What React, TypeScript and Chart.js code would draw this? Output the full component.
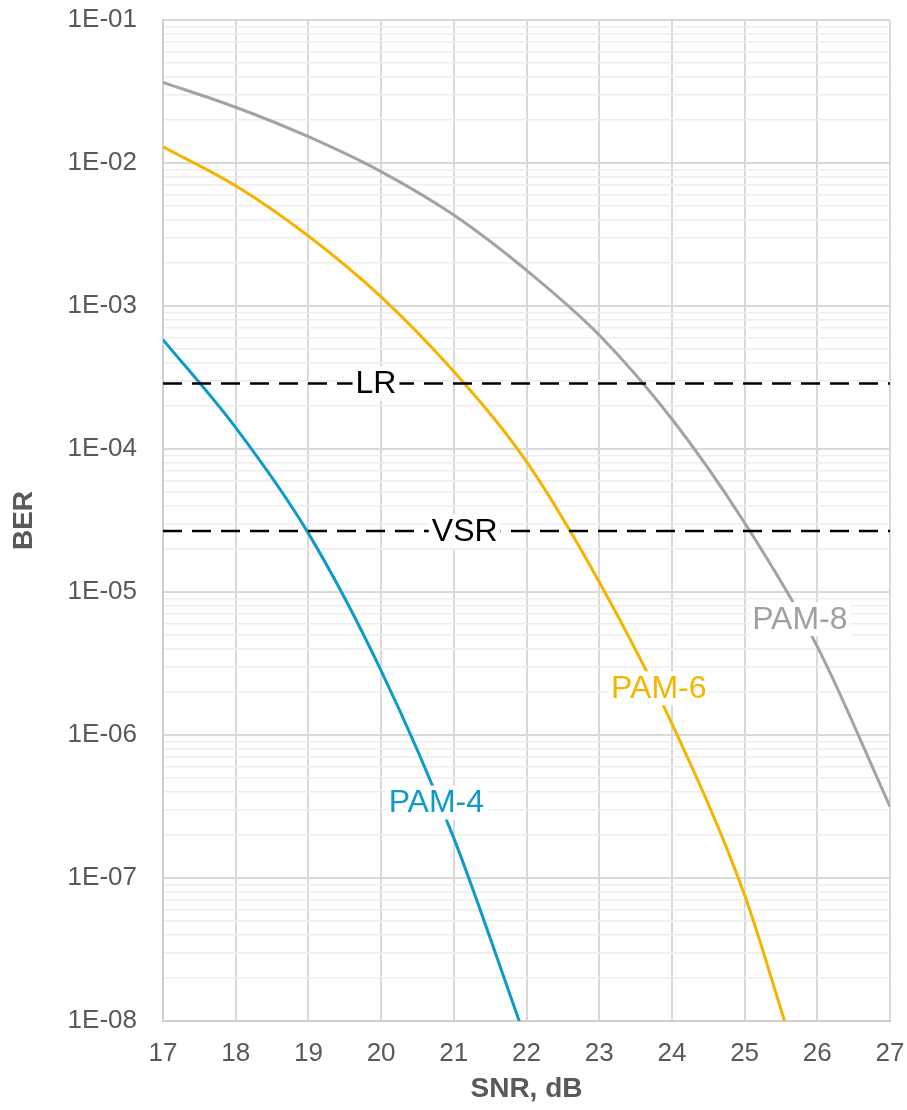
import React, { useEffect, useRef } from 'react';
import { Chart, registerables } from 'chart.js';

Chart.register(...registerables);

// ---- Data ----
const snrPam8 = [17, 18, 19, 20, 21, 22, 23, 24, 25, 26, 27];
const berPam8 = [0.03664, 0.02455, 0.01528, 0.00871, 0.004325, 0.001778, 6.27e-4, 1.62e-4, 3.05e-5, 4.15e-6, 3.16e-7];

const snrPam6 = [17, 18, 19, 20, 21, 22, 23, 24, 25, 25.55];
const berPam6 = [0.013, 6.93e-3, 3.09e-3, 1.16e-3, 3.48e-4, 8.15e-5, 1.175e-5, 1.2e-6, 7.6e-8, 1e-8];

const snrPam4 = [17, 18, 19, 20, 21, 21.9];
const berPam4 = [5.82e-4, 1.41e-4, 2.57e-5, 2.82e-6, 1.9e-7, 1e-8];

const limitNames = ['LR', 'VSR'];
const limitValues = [2.87e-4, 2.67e-5];
const snrRange = [17, 27];

const xTickValues = [17, 18, 19, 20, 21, 22, 23, 24, 25, 26, 27];
const yDecades = [-8, -7, -6, -5, -4, -3, -2, -1];

const labelTexts = ['LR', 'VSR', 'PAM-8', 'PAM-6', 'PAM-4'];
const labelSnr = [19.93, 21.15, 25.76, 23.82, 20.76];
const labelBer = [2.87e-4, 2.67e-5, 6.47e-6, 2.12e-6, 3.37e-7];

// ---- Styles ----
const FONT = '"Liberation Sans", Arial, Helvetica, sans-serif';
const colorPam8 = '#A3A3A3';
const colorPam6 = '#F4B400';
const colorPam4 = '#0E9BC7';
const labelColors = ['#000000', '#000000', '#A0A0A0', '#F4B400', '#0E9BC7'];
const textGray = '#595959';

const toPoints = (xs: number[], ys: number[]) => xs.map((x, i) => ({ x, y: ys[i] }));

const isMajor = (v: number) => {
  const l = Math.log10(v);
  return Math.abs(l - Math.round(l)) < 1e-6;
};

const fmtTick = (v: number) => {
  const e = Math.round(Math.log10(v));
  const s = Math.abs(e).toString().padStart(2, '0');
  return '1E' + (e < 0 ? '-' : '+') + s;
};

const labelPlugin = {
  id: 'curveLabels',
  afterDatasetsDraw(chart: any) {
    const ctx = chart.ctx;
    const xs = chart.scales.x;
    const ys = chart.scales.y;
    ctx.save();
    ctx.font = `32px ${FONT}`;
    ctx.textAlign = 'center';
    ctx.textBaseline = 'middle';
    labelTexts.forEach((t, i) => {
      const px = xs.getPixelForValue(labelSnr[i]);
      const py = ys.getPixelForValue(labelBer[i]);
      const w = ctx.measureText(t).width;
      ctx.fillStyle = '#FFFFFF';
      ctx.fillRect(px - w / 2 - 3, py - 17, w + 6, 34);
      ctx.fillStyle = labelColors[i];
      ctx.fillText(t, px, py + 1);
    });
    ctx.restore();
  },
};

export default function App() {
  const canvasRef = useRef<HTMLCanvasElement | null>(null);

  useEffect(() => {
    document.body.style.margin = '0';
    const canvas = canvasRef.current;
    if (!canvas) return;

    const yTicks: number[] = [];
    yDecades.forEach((d) => {
      if (d === -1) {
        yTicks.push(Math.pow(10, d));
      } else {
        for (let m = 1; m <= 9; m++) yTicks.push(m * Math.pow(10, d));
      }
    });

    const limitDatasets = limitNames.map((n, i) => ({
      label: n,
      data: [
        { x: snrRange[0], y: limitValues[i] },
        { x: snrRange[1], y: limitValues[i] },
      ],
      borderColor: '#000000',
      borderWidth: 2.5,
      borderDash: [19, 10],
      pointRadius: 0,
      fill: false,
    }));

    const curve = (label: string, xs: number[], ys: number[], color: string) => ({
      label,
      data: toPoints(xs, ys),
      borderColor: color,
      borderWidth: 3,
      pointRadius: 0,
      cubicInterpolationMode: 'monotone',
      fill: false,
    });

    const chart = new Chart(canvas, {
      type: 'line',
      data: {
        datasets: [
          ...limitDatasets,
          curve('PAM-8', snrPam8, berPam8, colorPam8),
          curve('PAM-6', snrPam6, berPam6, colorPam6),
          curve('PAM-4', snrPam4, berPam4, colorPam4),
        ],
      },
      options: {
        responsive: false,
        animation: false,
        devicePixelRatio: 1,
        layout: { padding: { top: 20, right: 17, left: 0, bottom: 0 } },
        plugins: {
          legend: { display: false },
          tooltip: { enabled: false },
        },
        scales: {
          x: {
            type: 'linear',
            min: snrRange[0],
            max: snrRange[1],
            afterFit: (scale: any) => {
              scale.height = 89;
              scale.paddingLeft = 0;
              scale.paddingRight = 0;
            },
            afterBuildTicks: (scale: any) => {
              scale.ticks = xTickValues.map((v) => ({ value: v }));
            },
            ticks: {
              color: textGray,
              font: { family: FONT, size: 26 },
              padding: 17,
              autoSkip: false,
              maxRotation: 0,
              callback: (v: any) => String(v),
            },
            grid: {
              color: '#D9D9D9',
              lineWidth: 2,
              drawTicks: false,
            },
            border: { color: '#CFCFCF', width: 2 },
            title: {
              display: true,
              text: 'SNR, dB',
              color: textGray,
              font: { family: FONT, size: 28, weight: 'bold' },
              padding: { top: 3, bottom: 4 },
            },
          },
          y: {
            type: 'logarithmic',
            min: 1e-8,
            max: 1e-1,
            afterFit: (scale: any) => {
              scale.width = 163;
              scale.paddingTop = 0;
              scale.paddingBottom = 0;
            },
            afterBuildTicks: (scale: any) => {
              scale.ticks = yTicks.map((v) => ({ value: v, major: isMajor(v) }));
            },
            ticks: {
              color: textGray,
              font: { family: FONT, size: 26 },
              padding: 26,
              autoSkip: false,
              callback: (v: any) => (isMajor(Number(v)) ? fmtTick(Number(v)) : ''),
            },
            grid: {
              color: (c: any) => (c.tick && isMajor(c.tick.value) ? '#D9D9D9' : '#EDEDED'),
              lineWidth: (c: any) => (c.tick && isMajor(c.tick.value) ? 2 : 1.5),
              drawTicks: false,
            },
            border: { color: '#CFCFCF', width: 2 },
            title: {
              display: true,
              text: 'BER',
              color: textGray,
              font: { family: FONT, size: 28, weight: 'bold' },
              padding: { top: 7, bottom: 4 },
            },
          },
        },
      } as any,
      plugins: [labelPlugin],
    });

    return () => {
      chart.destroy();
    };
  }, []);

  return (
    <div style={{ width: 907, height: 1110, background: '#FFFFFF' }}>
      <canvas ref={canvasRef} width={907} height={1110} />
    </div>
  );
}
